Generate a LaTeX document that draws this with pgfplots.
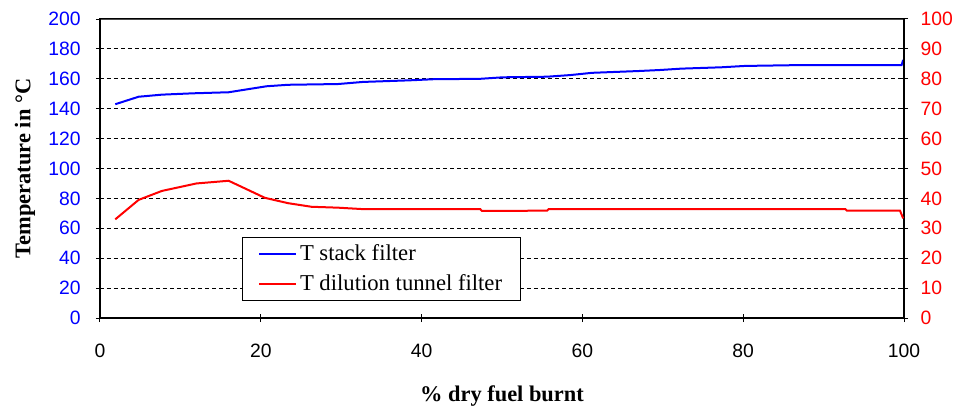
\documentclass[border=0pt]{standalone}
\usepackage{fontspec}
\setmainfont{Liberation Serif}
\newfontfamily\tickfont{Liberation Sans}
\usepackage{pgfplots}
\pgfplotsset{compat=1.18}
\definecolor{tblue}{RGB}{0,0,255}
\definecolor{tred}{RGB}{255,0,0}
\begin{document}
\begin{tikzpicture}[x=0.75pt,y=0.75pt]
\path[use as bounding box] (-100,-93) rectangle (860,318);
\begin{axis}[at={(0,0)}, anchor=south west, scale only axis,
  width=603pt, height=224.25pt,
  xmin=0, xmax=100, ymin=0, ymax=200,
  xtick={0,20,...,100}, ytick={0,20,...,200},
  xtick pos=bottom, ytick pos=left,
  tick align=center, major tick length=6pt,
  tick style={black, line width=0.75pt},
  axis line style={black, line width=0.9pt},
  ymajorgrids, grid style={black, dash pattern=on 3pt off 2.25pt, line width=0.75pt},
  /pgf/number format/assume math mode=true,
  tick label style={font=\tickfont\fontsize{14.5}{17}\selectfont},
  yticklabel style={tblue, xshift=-8pt},
  xticklabel style={yshift=-13pt},
  xlabel={\bfseries\% dry fuel burnt},
  ylabel={\bfseries Temperature in °C},
  label style={font=\fontsize{16.8}{19}\selectfont},
  xlabel style={at={(axis description cs:0.5,-0.261)}, anchor=center},
  ylabel style={at={(axis description cs:-0.0933,0.5)}, anchor=center},
  legend style={at={(axis description cs:0.176,0.058)}, anchor=south west,
    draw=black, line width=0.75pt, fill=white, font=\fontsize{17}{19}\selectfont,
    inner xsep=12pt, inner ysep=3.5pt, row sep=5pt},
  legend cell align=left,
  legend image code/.code={\draw[#1] (0pt,0pt) -- (28pt,0pt);},
]
\addplot[tblue, line width=1.5pt] coordinates {
(1.9,143)(4.8,148)(7.7,149.4)(11.6,150.3)(16,151)(20.7,155)(23.4,156)(29.6,156.5)
(32.7,157.9)(38.6,159)(41.4,159.7)(47.3,160)(50.1,161)(55.6,161.4)(58.5,162.5)
(61.2,164)(67,165.2)(69.7,165.9)(72.3,166.8)(77.3,167.7)(80.2,168.6)(87.3,169.2)
(99.7,169.2)(99.9,172.6)};
\addlegendentry{T stack filter}
\addlegendimage{tred, line width=1.5pt}
\addlegendentry{T dilution tunnel filter}
\draw[black!70, line width=0.9pt] (rel axis cs:0,1) -- (rel axis cs:1,1);
\end{axis}
\begin{axis}[at={(0,0)}, anchor=south west, scale only axis,
  width=603pt, height=224.25pt,
  xmin=0, xmax=100, ymin=0, ymax=100,
  hide x axis,
  ytick={0,10,...,100}, ytick pos=right, yticklabel pos=right,
  tick align=center, major tick length=6pt,
  tick style={black, line width=0.75pt},
  axis line style={black, line width=0.9pt},
  /pgf/number format/assume math mode=true,
  tick label style={font=\tickfont\fontsize{14.5}{17}\selectfont},
  yticklabel style={tred, xshift=6pt},
]
\addplot[tred, line width=1.5pt] coordinates {
(1.9,33)(4.8,39.5)(7.7,42.5)(12,45)(16,45.9)(20.5,40.2)(23.4,38.4)(26.3,37.2)
(29.6,36.9)(32.8,36.4)(47.3,36.4)(47.5,35.8)(55.6,35.9)(55.8,36.4)(92.7,36.4)
(92.9,35.9)(99.5,35.9)(99.9,33.3)};
\end{axis}
\end{tikzpicture}
\end{document}
